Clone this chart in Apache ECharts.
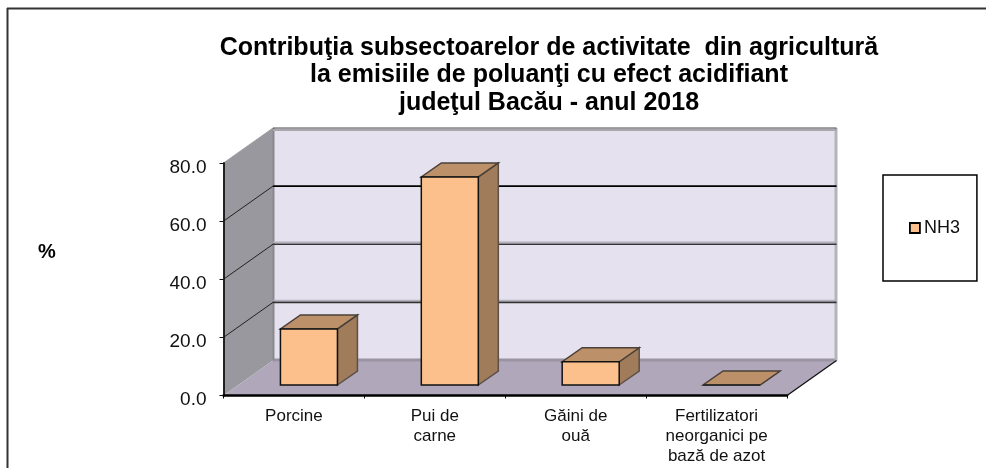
<!DOCTYPE html>
<html>
<head>
<meta charset="utf-8">
<style>html,body{margin:0;padding:0;background:#fff}#c{width:986px;height:468px}</style>
<script src="https://cdn.jsdelivr.net/npm/echarts@6/dist/echarts.min.js"></script>
</head>
<body>
<div id="c"></div>
<script>
const categories = ['Porcine', 'Pui de\ncarne', 'Găini de\nouă', 'Fertilizatori\nneorganici pe\nbază de azot'];
const seriesName = 'NH3';
const values = [19.3, 71.6, 8.0, 0];
const yTicks = [0, 20, 40, 60, 80];
const titleText = 'Contribuţia subsectoarelor de activitate  din agricultură\nla emisiile de poluanţi cu efect acidifiant\njudeţul Bacău - anul 2018';
const yAxisTitle = '%';

const FONT = '"Liberation Sans", Arial, sans-serif';
const depthX = 49.5, depthY = -35;
const barOffX = 15, barOffY = -10.5, barDepthX = 20, barDepthY = -14, barW = 57;
const C = {
  back: '#E6E1EE', left: '#98989E', floor: '#B0A8BA', floorEdge: '#9A93A2', edge: '#B4B4B8',
  front: '#FBC08C', top: '#BC9068', side: '#A07C5A'
};

function line(x1, y1, x2, y2, stroke, lineWidth) {
  return { type: 'line', shape: { x1, y1, x2, y2 }, style: { stroke, lineWidth, fill: null } };
}
function poly(points, fill, stroke, lineWidth) {
  return { type: 'polygon', shape: { points }, style: { fill, stroke: stroke || null, lineWidth: lineWidth || 0 } };
}

function renderWalls(params, api) {
  const cs = params.coordSys;
  const x0 = cs.x, x1 = cs.x + cs.width;
  const yAt = v => api.coord([0, v])[1];
  const y0 = yAt(0), yT = yAt(yTicks[yTicks.length - 1]);
  const ch = [];
  ch.push(poly([[x0 + depthX, y0 + depthY], [x1 + depthX, y0 + depthY], [x1 + depthX, yT + depthY], [x0 + depthX, yT + depthY]], C.back));
  ch.push(poly([[x0, y0], [x0 + depthX, y0 + depthY], [x0 + depthX, yT + depthY], [x0, yT]], C.left));
  ch.push(poly([[x0, y0], [x1, y0], [x1 + depthX, y0 + depthY], [x0 + depthX, y0 + depthY]], C.floor));
  ch.push(line(x0 + depthX, y0 + depthY - 0.5, x1 + depthX, y0 + depthY - 0.5, C.floorEdge, 3));
  ch.push(line(x1 + depthX - 0.5, yT + depthY, x1 + depthX - 0.5, y0 + depthY, C.edge, 3));
  ch.push(line(x0 + depthX + 0.5, yT + depthY, x0 + depthX + 0.5, y0 + depthY, '#88888E', 2));
  ch.push(line(x0 + depthX, yT + depthY + 2, x1 + depthX, yT + depthY + 2, '#A8A8AC', 2));
  ch.push(line(x0 + depthX, yT + depthY, x1 + depthX, yT + depthY, '#4A4A4A', 1.2));
  ch.push(line(x0, yT, x0 + depthX, yT + depthY, '#A0A0A4', 1));
  yTicks.slice(1, -1).forEach(v => {
    const y = yAt(v);
    ch.push(line(x0, y, x0 + depthX, y + depthY, '#222', 1));
    if (v < 60) ch.push(line(x0 + depthX, y + depthY - 2, x1 + depthX, y + depthY - 2, '#B5B0BE', 1.5));
    ch.push(line(x0 + depthX, y + depthY, x1 + depthX, y + depthY, v < 60 ? '#333' : '#000', 1.6));
  });
  ch.push(line(x1, y0, x1 + depthX, y0 + depthY, '#111', 1.3));
  return { type: 'group', children: ch };
}

function renderBar(params, api) {
  const top = api.coord([api.value(0), api.value(1)]);
  const base = api.coord([api.value(0), 0]);
  const l = top[0] + barOffX - barW / 2, r = l + barW;
  const yb = base[1] + barOffY, yt = top[1] + barOffY;
  const bx = barDepthX, by = barDepthY;
  const ch = [
    poly([[r, yb], [r + bx, yb + by], [r + bx, yt + by], [r, yt]], C.side, '#5A5048', 1.5),
    poly([[l, yt], [r, yt], [r + bx, yt + by], [l + bx, yt + by]], C.top, '#4A4038', 1.5)
  ];
  if (yb - yt > 1) {
    ch.push({ type: 'rect', shape: { x: l, y: yt, width: barW, height: yb - yt }, style: { fill: C.front, stroke: '#111', lineWidth: 1.5 } });
  } else {
    ch.push(line(l, yb, r, yb, '#222', 1.5));
  }
  return { type: 'group', children: ch };
}

const chart = echarts.init(document.getElementById('c'), null, { renderer: 'canvas' });
chart.setOption({
  animation: false,
  backgroundColor: '#fff',
  title: {
    text: titleText, left: 544, top: 29, textAlign: 'center',
    textStyle: { fontFamily: FONT, fontWeight: 'bold', fontSize: 25, lineHeight: 27.5, color: '#000' }
  },
  legend: {
    data: [seriesName], left: 883, top: 175, orient: 'vertical', icon: 'rect',
    itemWidth: 10, itemHeight: 10, itemGap: 0, padding: [44, 17, 44, 26],
    borderColor: '#000', borderWidth: 1.5, backgroundColor: '#fff',
    textStyle: { fontFamily: FONT, fontSize: 18, color: '#111', padding: [0, 0, 0, -1] },
    itemStyle: { color: C.front, borderColor: '#000', borderWidth: 1.8 }
  },
  grid: { left: 223.5, top: 163, width: 563.5, height: 232.5, containLabel: false },
  xAxis: {
    type: 'category', data: categories, z: 5,
    axisLine: { show: true, lineStyle: { color: '#000', width: 2.5 } },
    axisTick: { show: true, alignWithLabel: false, length: 3, lineStyle: { color: '#000', width: 1 } },
    axisLabel: { interval: 0, margin: 11, fontFamily: FONT, fontSize: 17, lineHeight: 20, color: '#111' }
  },
  yAxis: {
    type: 'value', min: yTicks[0], max: yTicks[yTicks.length - 1], interval: 20, z: 5,
    axisLine: { show: true, lineStyle: { color: '#111', width: 1.8 } },
    axisTick: { show: true, length: 4, lineStyle: { color: '#111', width: 1 } },
    axisLabel: {
      margin: 17, fontFamily: FONT, fontSize: 19, color: '#111',
      formatter: v => '{a|' + v.toFixed(1) + '}',
      rich: { a: { fontFamily: FONT, fontSize: 19, color: '#111', padding: [9, 0, 0, 0] } }
    },
    splitLine: { show: false }
  },
  graphic: [
    { type: 'line', shape: { x1: 7, y1: 8.5, x2: 986, y2: 8.5 }, style: { stroke: '#333', lineWidth: 2 } },
    { type: 'line', shape: { x1: 7.5, y1: 8, x2: 7.5, y2: 468 }, style: { stroke: '#333', lineWidth: 2 } },
    { type: 'text', x: 47, y: 252, style: { text: yAxisTitle, fontFamily: FONT, fontWeight: 'bold', fontSize: 20, fill: '#000', align: 'center', verticalAlign: 'middle' } }
  ],
  series: [
    { type: 'custom', name: 'walls', silent: true, z: 1, renderItem: renderWalls, data: [[0, 0]], encode: { x: 0, y: 1 } },
    {
      type: 'custom', name: seriesName, z: 2, renderItem: renderBar,
      itemStyle: { color: C.front },
      data: values.map((v, i) => [i, v]), encode: { x: 0, y: 1 }
    }
  ]
});
</script>
</body>
</html>
